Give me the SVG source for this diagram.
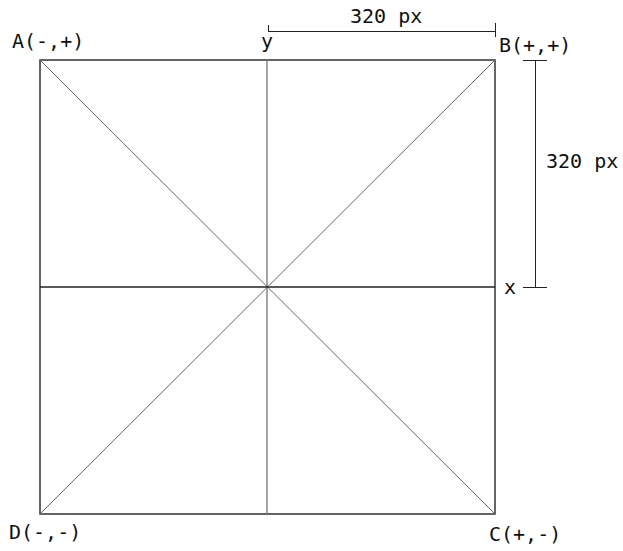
<svg xmlns="http://www.w3.org/2000/svg" width="623" height="551" viewBox="0 0 623 551">
<style>
text{font-family:"DejaVu Sans Mono","Liberation Mono",monospace;font-size:20px;fill:#111}
.sq{fill:none;stroke:#333;stroke-width:1.5}
.diag{stroke:#666;stroke-width:1}
.axv{stroke:#777;stroke-width:1.3}
.axh{stroke:#222;stroke-width:1.3}
.dim{stroke:#222;stroke-width:1;fill:none}
</style>
<rect width="623" height="551" fill="#fff"/>
<g id="square"><rect class="sq" x="40" y="60" width="455" height="454"/></g>
<g id="connectors">
<line class="diag" x1="40" y1="60" x2="495" y2="514"/>
<line class="diag" x1="495" y1="60" x2="40" y2="514"/>
<line class="axv" x1="267" y1="60" x2="267" y2="514"/>
<line class="axh" x1="40" y1="287" x2="495" y2="287"/>
</g>
<g id="dim-top">
<line class="dim" x1="268" y1="31.5" x2="495" y2="31.5"/>
<line class="dim" x1="268.5" y1="25" x2="268.5" y2="32"/>
<line class="dim" x1="495.5" y1="23" x2="495.5" y2="37"/>
<text x="350" y="23">320 px</text>
</g>
<g id="dim-right">
<line class="dim" x1="535.5" y1="60" x2="535.5" y2="287"/>
<line class="dim" x1="523" y1="60.5" x2="547" y2="60.5"/>
<line class="dim" x1="523" y1="287.5" x2="547" y2="287.5"/>
<text x="546" y="168">320 px</text>
</g>
<g id="A"><text x="12" y="48">A(-,+)</text></g>
<g id="B"><text x="499" y="52">B(+,+)</text></g>
<g id="C"><text x="489" y="541">C(+,-)</text></g>
<g id="D"><text x="9" y="539">D(-,-)</text></g>
<g id="y"><text x="261" y="48">y</text></g>
<g id="x"><text x="504" y="294">x</text></g>
</svg>
